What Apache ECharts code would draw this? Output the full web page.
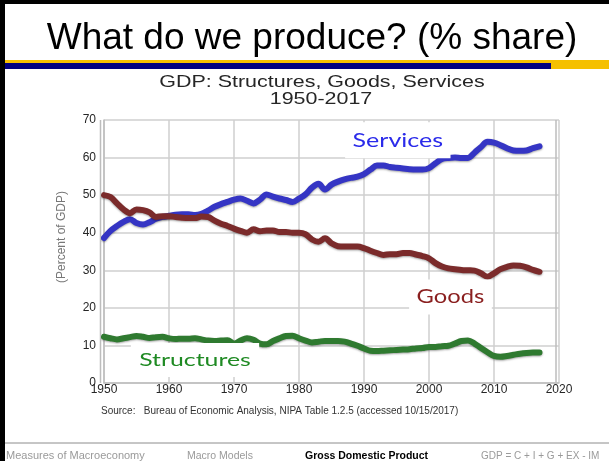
<!DOCTYPE html>
<html>
<head>
<meta charset="utf-8">
<script src="https://cdn.jsdelivr.net/npm/echarts@6/dist/echarts.min.js"></script>
<style>
  html, body { margin: 0; padding: 0; background: #fff; }
  #c { width: 609px; height: 461px; }
</style>
</head>
<body>
<div id="c"></div>
<script>
// Share of GDP by major type of product, 1950-2017 (percent)
const years = [
  1950, 1951, 1952, 1953, 1954, 1955, 1956, 1957, 1958, 1959,
  1960, 1961, 1962, 1963, 1964, 1965, 1966, 1967, 1968, 1969,
  1970, 1971, 1972, 1973, 1974, 1975, 1976, 1977, 1978, 1979,
  1980, 1981, 1982, 1983, 1984, 1985, 1986, 1987, 1988, 1989,
  1990, 1991, 1992, 1993, 1994, 1995, 1996, 1997, 1998, 1999,
  2000, 2001, 2002, 2003, 2004, 2005, 2006, 2007, 2008, 2009,
  2010, 2011, 2012, 2013, 2014, 2015, 2016, 2017
];
const services = [
  38.6, 40.5, 41.8, 42.9, 43.6, 42.6, 42.2, 42.8, 43.7, 44.2,
  44.5, 44.8, 44.9, 44.9, 44.7, 45.0, 45.9, 46.9, 47.6, 48.2,
  48.8, 49.1, 48.5, 47.8, 48.8, 50.2, 49.6, 49.1, 48.7, 48.2,
  49.1, 50.2, 52.0, 53.0, 51.5, 52.8, 53.6, 54.2, 54.6, 54.9,
  55.6, 56.8, 57.9, 57.9, 57.5, 57.3, 57.1, 56.9, 56.8, 56.8,
  57.2, 58.5, 59.6, 59.9, 60.0, 59.9, 59.9, 61.3, 62.8, 64.2,
  64.0, 63.3, 62.5, 61.9, 61.8, 61.9, 62.5, 63.0
];
const goods = [
  50.0, 49.5, 47.8, 46.2, 45.2, 46.2, 46.0, 45.4, 44.2, 44.4,
  44.4, 44.2, 44.0, 43.9, 43.9, 44.3, 44.2, 43.2, 42.4, 41.8,
  41.1, 40.5, 40.0, 40.9, 40.4, 40.6, 40.6, 40.2, 40.2, 40.0,
  40.0, 39.6, 38.2, 37.6, 38.5, 37.2, 36.4, 36.3, 36.3, 36.3,
  35.9, 35.2, 34.6, 34.1, 34.3, 34.3, 34.6, 34.6, 34.2, 33.8,
  33.2, 31.9, 31.0, 30.5, 30.3, 30.1, 30.0, 29.9, 29.2, 28.3,
  29.2, 30.3, 30.9, 31.3, 31.2, 30.8, 30.1, 29.6
];
const structures = [
  12.3, 11.9, 11.6, 11.9, 12.2, 12.5, 12.3, 12.0, 12.2, 12.3,
  11.9, 11.7, 11.8, 11.8, 11.9, 11.6, 11.3, 11.2, 11.3, 11.4,
  10.5, 11.3, 11.9, 11.5, 10.5, 10.3, 11.2, 11.9, 12.5, 12.6,
  11.9, 11.3, 10.8, 11.0, 11.2, 11.2, 11.2, 11.0, 10.5, 9.9,
  9.2, 8.6, 8.5, 8.6, 8.7, 8.8, 8.9, 9.0, 9.2, 9.3,
  9.6, 9.6, 9.8, 9.9, 10.5, 11.2, 11.3, 10.5, 9.3, 8.2,
  7.2, 7.0, 7.2, 7.5, 7.8, 8.0, 8.1, 8.1
];

// Series name, direct label placement (in data units) and colours
const seriesInfo = [
  { name: 'Services',   values: services,   line: '#3535c4', text: '#2b2bea', at: [1995.2, 64.6], size: 20, sx: 1.25 },
  { name: 'Goods',      values: goods,      line: '#7b2b2b', text: '#8a1f1f', at: [2003.3, 22.9], size: 19, sx: 1.25 },
  { name: 'Structures', values: structures, line: '#2f7a30', text: '#1f8a23', at: [1964.0, 6.1],  size: 18, sx: 1.38 }
];

const chart = echarts.init(document.getElementById('c'));

const gridColor = '#cfcfcf';
const labelFont = 'Liberation Sans, Arial, sans-serif';

chart.setOption({
  animation: false,
  grid: { left: 104, right: 50, top: 120, bottom: 78 },
  xAxis: {
    type: 'value', min: 1950, max: 2020, interval: 10,
    axisLine: { show: true, lineStyle: { color: '#bdbdbd', width: 1.5 } },
    axisTick: { show: false },
    splitLine: { show: true, lineStyle: { color: gridColor, width: 1.5 } },
    axisLabel: { color: '#262626', fontFamily: labelFont, fontSize: 12, margin: 1,
                 formatter: v => String(v) }
  },
  yAxis: {
    type: 'value', min: 0, max: 70, interval: 10,
    axisLine: { show: true, lineStyle: { color: '#bdbdbd', width: 1.5 } },
    axisTick: { show: false },
    splitLine: { show: true, lineStyle: { color: gridColor, width: 1.5 } },
    axisLabel: { color: '#262626', fontFamily: labelFont, fontSize: 12, margin: 8 }
  },
  series: seriesInfo.map(s => ({
    name: s.name,
    type: 'line',
    data: years.map((y, i) => [y, s.values[i]]),
    smooth: 0.35,
    symbol: 'none',
    z: 3,
    lineStyle: {
      color: s.line, width: 6, cap: 'round', join: 'round',
      shadowColor: 'rgba(0,0,0,0.35)', shadowBlur: 2, shadowOffsetY: 1
    }
  }))
});

// Slide decoration, headings and direct labels
const W = 609, H = 461;
const tl = chart.convertToPixel({ gridIndex: 0 }, [1950, 70]);
const br = chart.convertToPixel({ gridIndex: 0 }, [2020, 0]);
const sans = '"Liberation Sans", Arial, sans-serif';

const graphics = [
  // slide frame
  { type: 'rect', shape: { x: 0, y: 0, width: 5, height: H }, style: { fill: '#000' } },
  { type: 'rect', shape: { x: 0, y: 0, width: W, height: 4 }, style: { fill: '#000' } },
  // title underline bars
  { type: 'rect', shape: { x: 5, y: 60, width: W - 5, height: 9 }, style: { fill: '#f5c000' } },
  { type: 'rect', shape: { x: 5, y: 63, width: 546, height: 6 }, style: { fill: '#000080' } },
  // slide title
  { type: 'text', x: 312, y: 39, style: {
      text: 'What do we produce? (% share)', fill: '#000',
      font: '37px ' + sans, align: 'center', verticalAlign: 'middle' } },
  // chart heading
  { type: 'text', x: 322, y: 82, scaleX: 1.3, style: {
      text: 'GDP: Structures, Goods, Services', fill: '#262626',
      font: '16.5px ' + sans, align: 'center', verticalAlign: 'middle' } },
  { type: 'text', x: 321, y: 99, scaleX: 1.3, style: {
      text: '1950-2017', fill: '#262626',
      font: '16.5px ' + sans, align: 'center', verticalAlign: 'middle' } },
  // axis title
  { type: 'text', x: 62, y: 237, rotation: Math.PI / 2, style: {
      text: '(Percent of GDP)', fill: '#777',
      font: '12px ' + sans, align: 'center', verticalAlign: 'middle' } },
  // doubled plot frame
  { type: 'line', shape: { x1: tl[0] - 3.5, y1: tl[1], x2: tl[0] - 3.5, y2: br[1] }, style: { stroke: '#bdbdbd', lineWidth: 1.5 } },
  { type: 'line', shape: { x1: br[0] - 3, y1: tl[1], x2: br[0] - 3, y2: br[1] }, style: { stroke: '#bdbdbd', lineWidth: 1.5 } },
  // source note
  { type: 'text', x: 101, y: 411, style: {
      text: 'Source:   Bureau of Economic Analysis, NIPA Table 1.2.5 (accessed 10/15/2017)', fill: '#333',
      font: '10px ' + sans, align: 'left', verticalAlign: 'middle' } },
  // footer
  { type: 'line', shape: { x1: 5, y1: 443, x2: W, y2: 443 }, style: { stroke: '#8c8c8c', lineWidth: 1 } },
  { type: 'text', x: 6, y: 456, style: { text: 'Measures of Macroeconomy', fill: '#9a9a9a',
      font: '11px ' + sans, align: 'left', verticalAlign: 'middle' } },
  { type: 'text', x: 187, y: 456, style: { text: 'Macro Models', fill: '#9a9a9a',
      font: '10.5px ' + sans, align: 'left', verticalAlign: 'middle' } },
  { type: 'text', x: 305, y: 456, style: { text: 'Gross Domestic Product', fill: '#000',
      font: 'bold 10.5px ' + sans, align: 'left', verticalAlign: 'middle' } },
  { type: 'text', x: 481, y: 456, style: { text: 'GDP = C + I + G + EX - IM', fill: '#9a9a9a',
      font: '10px ' + sans, align: 'left', verticalAlign: 'middle' } }
];

seriesInfo.forEach(s => {
  const p = chart.convertToPixel({ gridIndex: 0 }, s.at);
  graphics.push({
    type: 'text', x: p[0], y: p[1], scaleX: s.sx, z: 10,
    style: {
      text: s.name, fill: s.text, font: s.size + 'px Lato, "Open Sans", sans-serif',
      align: 'center', verticalAlign: 'middle',
      backgroundColor: '#fff', padding: [8, 6]
    }
  });
});

chart.setOption({ graphic: graphics });
</script>
</body>
</html>
